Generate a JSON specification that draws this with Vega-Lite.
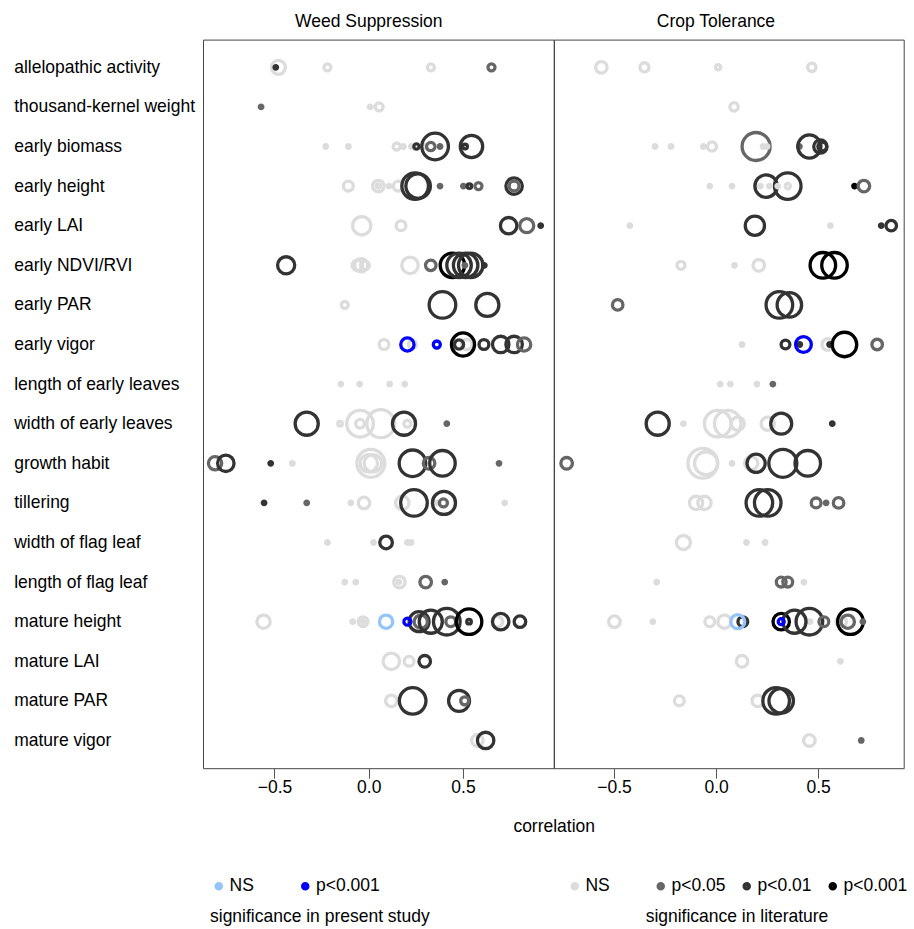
{
"$schema": "https://vega.github.io/schema/vega-lite/v6.json",
"autosize": {"type": "pad"},
"padding": {"left": 13, "top": 11.6, "right": 5, "bottom": 5},
"background": "white",
"spacing": 0,
"bounds": "flush",
"config": {
  "font": "Liberation Sans",
  "view": {"stroke": "#444", "strokeWidth": 1},
  "axis": {"grid": false, "labelColor": "#000", "labelFontSize": 17.5, "titleColor": "#000", "titleFontWeight": "normal", "titleFontSize": 17.5},
  "legend": {"orient": "none", "direction": "horizontal", "labelFontSize": 17.5, "titleFontSize": 17.5, "titleFontWeight": "normal", "labelColor": "#000", "titleColor": "#000", "symbolSize": 20, "symbolStrokeWidth": 4, "symbolType": "circle", "labelOffset": 2, "titlePadding": 12, "padding": 0, "titleOrient": "bottom", "gridAlign": "all", "titleLimit": 500, "labelLimit": 300},
  "title": {"fontSize": 17.5, "fontWeight": "normal", "color": "#000"}
},
"datasets": {"pts": [
{"trait":"allelopathic activity","panel":"weed","r":-0.479,"n":4,"sig":"NS","src":"lit"},
{"trait":"allelopathic activity","panel":"weed","r":-0.493,"n":1,"sig":"p<0.01","src":"lit"},
{"trait":"allelopathic activity","panel":"weed","r":-0.219,"n":2,"sig":"NS","src":"lit"},
{"trait":"allelopathic activity","panel":"weed","r":0.33,"n":2,"sig":"NS","src":"lit"},
{"trait":"allelopathic activity","panel":"weed","r":0.651,"n":2,"sig":"p<0.05","src":"lit"},
{"trait":"thousand-kernel weight","panel":"weed","r":-0.571,"n":1,"sig":"p<0.05","src":"lit"},
{"trait":"thousand-kernel weight","panel":"weed","r":0.007,"n":1,"sig":"NS","src":"lit"},
{"trait":"thousand-kernel weight","panel":"weed","r":0.055,"n":2.3,"sig":"NS","src":"lit"},
{"trait":"early biomass","panel":"weed","r":-0.228,"n":1,"sig":"NS","src":"lit"},
{"trait":"early biomass","panel":"weed","r":-0.108,"n":1,"sig":"NS","src":"lit"},
{"trait":"early biomass","panel":"weed","r":0.148,"n":2,"sig":"NS","src":"lit"},
{"trait":"early biomass","panel":"weed","r":0.184,"n":1,"sig":"NS","src":"lit"},
{"trait":"early biomass","panel":"weed","r":0.226,"n":1,"sig":"NS","src":"lit"},
{"trait":"early biomass","panel":"weed","r":0.29,"n":1.5,"sig":"NS","src":"lit"},
{"trait":"early biomass","panel":"weed","r":0.253,"n":1.5,"sig":"p<0.01","src":"lit"},
{"trait":"early biomass","panel":"weed","r":0.352,"n":7.6,"sig":"p<0.01","src":"lit"},
{"trait":"early biomass","panel":"weed","r":0.329,"n":2.4,"sig":"p<0.05","src":"lit"},
{"trait":"early biomass","panel":"weed","r":0.378,"n":1,"sig":"p<0.05","src":"lit"},
{"trait":"early biomass","panel":"weed","r":0.545,"n":6.4,"sig":"p<0.01","src":"lit"},
{"trait":"early biomass","panel":"weed","r":0.511,"n":1.3,"sig":"p<0.01","src":"lit"},
{"trait":"early height","panel":"weed","r":-0.108,"n":2.8,"sig":"NS","src":"lit"},
{"trait":"early height","panel":"weed","r":0.051,"n":3.3,"sig":"NS","src":"lit"},
{"trait":"early height","panel":"weed","r":0.051,"n":1.2,"sig":"NS","src":"lit"},
{"trait":"early height","panel":"weed","r":0.108,"n":1,"sig":"NS","src":"lit"},
{"trait":"early height","panel":"weed","r":0.157,"n":2.8,"sig":"NS","src":"lit"},
{"trait":"early height","panel":"weed","r":0.246,"n":7.6,"sig":"p<0.01","src":"lit"},
{"trait":"early height","panel":"weed","r":0.262,"n":7,"sig":"p<0.01","src":"lit"},
{"trait":"early height","panel":"weed","r":0.378,"n":1,"sig":"p<0.05","src":"lit"},
{"trait":"early height","panel":"weed","r":0.502,"n":1,"sig":"p<0.05","src":"lit"},
{"trait":"early height","panel":"weed","r":0.534,"n":1.3,"sig":"p<0.01","src":"lit"},
{"trait":"early height","panel":"weed","r":0.582,"n":2,"sig":"p<0.05","src":"lit"},
{"trait":"early height","panel":"weed","r":0.771,"n":4.7,"sig":"p<0.01","src":"lit"},
{"trait":"early height","panel":"weed","r":0.771,"n":2.8,"sig":"p<0.05","src":"lit"},
{"trait":"early LAI","panel":"weed","r":-0.037,"n":5.2,"sig":"NS","src":"lit"},
{"trait":"early LAI","panel":"weed","r":0.171,"n":2.8,"sig":"NS","src":"lit"},
{"trait":"early LAI","panel":"weed","r":0.742,"n":4.7,"sig":"p<0.01","src":"lit"},
{"trait":"early LAI","panel":"weed","r":0.838,"n":4,"sig":"p<0.05","src":"lit"},
{"trait":"early LAI","panel":"weed","r":0.912,"n":1,"sig":"p<0.01","src":"lit"},
{"trait":"early NDVI/RVI","panel":"weed","r":-0.438,"n":4.9,"sig":"p<0.01","src":"lit"},
{"trait":"early NDVI/RVI","panel":"weed","r":-0.06,"n":3,"sig":"NS","src":"lit"},
{"trait":"early NDVI/RVI","panel":"weed","r":-0.04,"n":3.8,"sig":"NS","src":"lit"},
{"trait":"early NDVI/RVI","panel":"weed","r":-0.02,"n":2.5,"sig":"NS","src":"lit"},
{"trait":"early NDVI/RVI","panel":"weed","r":0.219,"n":4.7,"sig":"NS","src":"lit"},
{"trait":"early NDVI/RVI","panel":"weed","r":0.329,"n":3,"sig":"p<0.05","src":"lit"},
{"trait":"early NDVI/RVI","panel":"weed","r":0.444,"n":7,"sig":"p<0.001","src":"lit"},
{"trait":"early NDVI/RVI","panel":"weed","r":0.479,"n":7,"sig":"p<0.01","src":"lit"},
{"trait":"early NDVI/RVI","panel":"weed","r":0.514,"n":7,"sig":"p<0.01","src":"lit"},
{"trait":"early NDVI/RVI","panel":"weed","r":0.541,"n":7,"sig":"p<0.01","src":"lit"},
{"trait":"early NDVI/RVI","panel":"weed","r":0.51,"n":1,"sig":"p<0.05","src":"lit"},
{"trait":"early NDVI/RVI","panel":"weed","r":0.613,"n":1,"sig":"p<0.01","src":"lit"},
{"trait":"early PAR","panel":"weed","r":-0.127,"n":2,"sig":"NS","src":"lit"},
{"trait":"early PAR","panel":"weed","r":0.391,"n":7.6,"sig":"p<0.01","src":"lit"},
{"trait":"early PAR","panel":"weed","r":0.629,"n":6.6,"sig":"p<0.01","src":"lit"},
{"trait":"early vigor","panel":"weed","r":0.081,"n":2.8,"sig":"NS","src":"lit"},
{"trait":"early vigor","panel":"weed","r":0.232,"n":2.3,"sig":"NS","src":"lit"},
{"trait":"early vigor","panel":"weed","r":0.52,"n":3,"sig":"NS","src":"lit"},
{"trait":"early vigor","panel":"weed","r":0.5,"n":6.6,"sig":"p<0.001","src":"lit"},
{"trait":"early vigor","panel":"weed","r":0.479,"n":2.6,"sig":"p<0.01","src":"lit"},
{"trait":"early vigor","panel":"weed","r":0.611,"n":2.8,"sig":"p<0.01","src":"lit"},
{"trait":"early vigor","panel":"weed","r":0.7,"n":4.7,"sig":"p<0.01","src":"lit"},
{"trait":"early vigor","panel":"weed","r":0.771,"n":4.7,"sig":"p<0.01","src":"lit"},
{"trait":"early vigor","panel":"weed","r":0.824,"n":3.8,"sig":"p<0.05","src":"lit"},
{"trait":"early vigor","panel":"weed","r":0.205,"n":3.8,"sig":"p<0.001","src":"present"},
{"trait":"early vigor","panel":"weed","r":0.361,"n":2,"sig":"p<0.001","src":"present"},
{"trait":"length of early leaves","panel":"weed","r":-0.148,"n":1,"sig":"NS","src":"lit"},
{"trait":"length of early leaves","panel":"weed","r":-0.048,"n":1,"sig":"NS","src":"lit"},
{"trait":"length of early leaves","panel":"weed","r":0.111,"n":1,"sig":"NS","src":"lit"},
{"trait":"length of early leaves","panel":"weed","r":0.191,"n":1,"sig":"NS","src":"lit"},
{"trait":"width of early leaves","panel":"weed","r":-0.329,"n":6.6,"sig":"p<0.01","src":"lit"},
{"trait":"width of early leaves","panel":"weed","r":-0.152,"n":1.3,"sig":"NS","src":"lit"},
{"trait":"width of early leaves","panel":"weed","r":-0.046,"n":7.6,"sig":"NS","src":"lit"},
{"trait":"width of early leaves","panel":"weed","r":-0.046,"n":2.5,"sig":"NS","src":"lit"},
{"trait":"width of early leaves","panel":"weed","r":0.064,"n":8,"sig":"NS","src":"lit"},
{"trait":"width of early leaves","panel":"weed","r":0.205,"n":2,"sig":"NS","src":"lit"},
{"trait":"width of early leaves","panel":"weed","r":0.187,"n":6.6,"sig":"p<0.01","src":"lit"},
{"trait":"width of early leaves","panel":"weed","r":0.414,"n":1,"sig":"p<0.05","src":"lit"},
{"trait":"growth habit","panel":"weed","r":-0.815,"n":3.8,"sig":"p<0.05","src":"lit"},
{"trait":"growth habit","panel":"weed","r":-0.758,"n":4.7,"sig":"p<0.01","src":"lit"},
{"trait":"growth habit","panel":"weed","r":-0.52,"n":1,"sig":"p<0.01","src":"lit"},
{"trait":"growth habit","panel":"weed","r":-0.405,"n":1,"sig":"NS","src":"lit"},
{"trait":"growth habit","panel":"weed","r":0.011,"n":8,"sig":"NS","src":"lit"},
{"trait":"growth habit","panel":"weed","r":0.0,"n":5,"sig":"NS","src":"lit"},
{"trait":"growth habit","panel":"weed","r":0.022,"n":5,"sig":"NS","src":"lit"},
{"trait":"growth habit","panel":"weed","r":0.232,"n":7.6,"sig":"p<0.01","src":"lit"},
{"trait":"growth habit","panel":"weed","r":0.32,"n":3.3,"sig":"p<0.05","src":"lit"},
{"trait":"growth habit","panel":"weed","r":0.391,"n":7.3,"sig":"p<0.01","src":"lit"},
{"trait":"growth habit","panel":"weed","r":0.691,"n":1,"sig":"p<0.05","src":"lit"},
{"trait":"tillering","panel":"weed","r":-0.555,"n":1,"sig":"p<0.01","src":"lit"},
{"trait":"tillering","panel":"weed","r":-0.329,"n":1,"sig":"p<0.05","src":"lit"},
{"trait":"tillering","panel":"weed","r":-0.095,"n":1,"sig":"NS","src":"lit"},
{"trait":"tillering","panel":"weed","r":-0.025,"n":3.3,"sig":"NS","src":"lit"},
{"trait":"tillering","panel":"weed","r":0.178,"n":3.8,"sig":"NS","src":"lit"},
{"trait":"tillering","panel":"weed","r":0.364,"n":1,"sig":"NS","src":"lit"},
{"trait":"tillering","panel":"weed","r":0.721,"n":1,"sig":"NS","src":"lit"},
{"trait":"tillering","panel":"weed","r":0.24,"n":7.6,"sig":"p<0.01","src":"lit"},
{"trait":"tillering","panel":"weed","r":0.399,"n":6.6,"sig":"p<0.01","src":"lit"},
{"trait":"tillering","panel":"weed","r":0.396,"n":2.3,"sig":"p<0.05","src":"lit"},
{"trait":"width of flag leaf","panel":"weed","r":-0.219,"n":1,"sig":"NS","src":"lit"},
{"trait":"width of flag leaf","panel":"weed","r":0.025,"n":1,"sig":"NS","src":"lit"},
{"trait":"width of flag leaf","panel":"weed","r":0.205,"n":1,"sig":"NS","src":"lit"},
{"trait":"width of flag leaf","panel":"weed","r":0.225,"n":1,"sig":"NS","src":"lit"},
{"trait":"width of flag leaf","panel":"weed","r":0.092,"n":3.6,"sig":"p<0.01","src":"lit"},
{"trait":"length of flag leaf","panel":"weed","r":-0.127,"n":1,"sig":"NS","src":"lit"},
{"trait":"length of flag leaf","panel":"weed","r":-0.069,"n":1,"sig":"NS","src":"lit"},
{"trait":"length of flag leaf","panel":"weed","r":0.163,"n":3.3,"sig":"NS","src":"lit"},
{"trait":"length of flag leaf","panel":"weed","r":0.16,"n":1,"sig":"NS","src":"lit"},
{"trait":"length of flag leaf","panel":"weed","r":0.302,"n":3.3,"sig":"p<0.05","src":"lit"},
{"trait":"length of flag leaf","panel":"weed","r":0.403,"n":1,"sig":"p<0.05","src":"lit"},
{"trait":"mature height","panel":"weed","r":-0.558,"n":3.8,"sig":"NS","src":"lit"},
{"trait":"mature height","panel":"weed","r":-0.085,"n":1,"sig":"NS","src":"lit"},
{"trait":"mature height","panel":"weed","r":-0.03,"n":2.8,"sig":"NS","src":"lit"},
{"trait":"mature height","panel":"weed","r":-0.03,"n":1,"sig":"NS","src":"lit"},
{"trait":"mature height","panel":"weed","r":0.682,"n":3,"sig":"NS","src":"lit"},
{"trait":"mature height","panel":"weed","r":0.267,"n":5.7,"sig":"p<0.01","src":"lit"},
{"trait":"mature height","panel":"weed","r":0.276,"n":3.8,"sig":"p<0.05","src":"lit"},
{"trait":"mature height","panel":"weed","r":0.329,"n":6.6,"sig":"p<0.01","src":"lit"},
{"trait":"mature height","panel":"weed","r":0.414,"n":7.6,"sig":"p<0.01","src":"lit"},
{"trait":"mature height","panel":"weed","r":0.435,"n":2.8,"sig":"p<0.05","src":"lit"},
{"trait":"mature height","panel":"weed","r":0.532,"n":7.3,"sig":"p<0.001","src":"lit"},
{"trait":"mature height","panel":"weed","r":0.532,"n":1.3,"sig":"p<0.01","src":"lit"},
{"trait":"mature height","panel":"weed","r":0.7,"n":4.7,"sig":"p<0.01","src":"lit"},
{"trait":"mature height","panel":"weed","r":0.802,"n":3.3,"sig":"p<0.01","src":"lit"},
{"trait":"mature height","panel":"weed","r":0.092,"n":3.8,"sig":"NS","src":"present"},
{"trait":"mature height","panel":"weed","r":0.205,"n":2,"sig":"p<0.001","src":"present"},
{"trait":"mature LAI","panel":"weed","r":0.12,"n":4.7,"sig":"NS","src":"lit"},
{"trait":"mature LAI","panel":"weed","r":0.214,"n":2.8,"sig":"NS","src":"lit"},
{"trait":"mature LAI","panel":"weed","r":0.297,"n":3.3,"sig":"p<0.01","src":"lit"},
{"trait":"mature PAR","panel":"weed","r":0.12,"n":3.3,"sig":"NS","src":"lit"},
{"trait":"mature PAR","panel":"weed","r":0.233,"n":7.6,"sig":"p<0.01","src":"lit"},
{"trait":"mature PAR","panel":"weed","r":0.479,"n":6,"sig":"p<0.01","src":"lit"},
{"trait":"mature PAR","panel":"weed","r":0.509,"n":2.3,"sig":"p<0.05","src":"lit"},
{"trait":"mature vigor","panel":"weed","r":0.576,"n":3.3,"sig":"NS","src":"lit"},
{"trait":"mature vigor","panel":"weed","r":0.62,"n":4.7,"sig":"p<0.01","src":"lit"},
{"trait":"allelopathic activity","panel":"crop","r":-0.562,"n":3.3,"sig":"NS","src":"lit"},
{"trait":"allelopathic activity","panel":"crop","r":-0.351,"n":2.6,"sig":"NS","src":"lit"},
{"trait":"allelopathic activity","panel":"crop","r":0.01,"n":1.5,"sig":"NS","src":"lit"},
{"trait":"allelopathic activity","panel":"crop","r":0.469,"n":2.4,"sig":"NS","src":"lit"},
{"trait":"thousand-kernel weight","panel":"crop","r":0.088,"n":2.4,"sig":"NS","src":"lit"},
{"trait":"early biomass","panel":"crop","r":-0.299,"n":1,"sig":"NS","src":"lit"},
{"trait":"early biomass","panel":"crop","r":-0.221,"n":1,"sig":"NS","src":"lit"},
{"trait":"early biomass","panel":"crop","r":-0.062,"n":1,"sig":"NS","src":"lit"},
{"trait":"early biomass","panel":"crop","r":-0.02,"n":2.6,"sig":"NS","src":"lit"},
{"trait":"early biomass","panel":"crop","r":0.196,"n":8,"sig":"p<0.05","src":"lit"},
{"trait":"early biomass","panel":"crop","r":0.23,"n":1,"sig":"NS","src":"lit"},
{"trait":"early biomass","panel":"crop","r":0.25,"n":1,"sig":"NS","src":"lit"},
{"trait":"early biomass","panel":"crop","r":0.408,"n":1,"sig":"p<0.05","src":"lit"},
{"trait":"early biomass","panel":"crop","r":0.457,"n":6.6,"sig":"p<0.01","src":"lit"},
{"trait":"early biomass","panel":"crop","r":0.511,"n":3.8,"sig":"p<0.01","src":"lit"},
{"trait":"early biomass","panel":"crop","r":0.52,"n":2.5,"sig":"p<0.01","src":"lit"},
{"trait":"early height","panel":"crop","r":-0.031,"n":1,"sig":"NS","src":"lit"},
{"trait":"early height","panel":"crop","r":0.078,"n":1,"sig":"NS","src":"lit"},
{"trait":"early height","panel":"crop","r":0.245,"n":6.4,"sig":"p<0.01","src":"lit"},
{"trait":"early height","panel":"crop","r":0.351,"n":7.6,"sig":"p<0.01","src":"lit"},
{"trait":"early height","panel":"crop","r":0.217,"n":1,"sig":"NS","src":"lit"},
{"trait":"early height","panel":"crop","r":0.261,"n":1,"sig":"NS","src":"lit"},
{"trait":"early height","panel":"crop","r":0.302,"n":1,"sig":"NS","src":"lit"},
{"trait":"early height","panel":"crop","r":0.351,"n":1.5,"sig":"NS","src":"lit"},
{"trait":"early height","panel":"crop","r":0.678,"n":1,"sig":"p<0.001","src":"lit"},
{"trait":"early height","panel":"crop","r":0.724,"n":3.3,"sig":"p<0.05","src":"lit"},
{"trait":"early LAI","panel":"crop","r":-0.422,"n":1,"sig":"NS","src":"lit"},
{"trait":"early LAI","panel":"crop","r":0.19,"n":5.5,"sig":"p<0.01","src":"lit"},
{"trait":"early LAI","panel":"crop","r":0.56,"n":1,"sig":"NS","src":"lit"},
{"trait":"early LAI","panel":"crop","r":0.809,"n":1,"sig":"p<0.01","src":"lit"},
{"trait":"early LAI","panel":"crop","r":0.858,"n":3,"sig":"p<0.01","src":"lit"},
{"trait":"early NDVI/RVI","panel":"crop","r":-0.172,"n":2.3,"sig":"NS","src":"lit"},
{"trait":"early NDVI/RVI","panel":"crop","r":0.09,"n":1,"sig":"NS","src":"lit"},
{"trait":"early NDVI/RVI","panel":"crop","r":0.209,"n":3.3,"sig":"NS","src":"lit"},
{"trait":"early NDVI/RVI","panel":"crop","r":0.523,"n":7.3,"sig":"p<0.001","src":"lit"},
{"trait":"early NDVI/RVI","panel":"crop","r":0.58,"n":7.3,"sig":"p<0.001","src":"lit"},
{"trait":"early PAR","panel":"crop","r":-0.482,"n":3,"sig":"p<0.05","src":"lit"},
{"trait":"early PAR","panel":"crop","r":0.31,"n":7.6,"sig":"p<0.01","src":"lit"},
{"trait":"early PAR","panel":"crop","r":0.359,"n":7,"sig":"p<0.01","src":"lit"},
{"trait":"early vigor","panel":"crop","r":0.127,"n":1,"sig":"NS","src":"lit"},
{"trait":"early vigor","panel":"crop","r":0.34,"n":2.5,"sig":"p<0.01","src":"lit"},
{"trait":"early vigor","panel":"crop","r":0.547,"n":3.3,"sig":"NS","src":"lit"},
{"trait":"early vigor","panel":"crop","r":0.556,"n":1,"sig":"p<0.01","src":"lit"},
{"trait":"early vigor","panel":"crop","r":0.629,"n":7,"sig":"p<0.001","src":"lit"},
{"trait":"early vigor","panel":"crop","r":0.789,"n":3,"sig":"p<0.05","src":"lit"},
{"trait":"early vigor","panel":"crop","r":0.428,"n":4.5,"sig":"p<0.001","src":"present"},
{"trait":"early vigor","panel":"crop","r":0.41,"n":1,"sig":"p<0.01","src":"lit"},
{"trait":"length of early leaves","panel":"crop","r":0.02,"n":1,"sig":"NS","src":"lit"},
{"trait":"length of early leaves","panel":"crop","r":0.07,"n":1,"sig":"NS","src":"lit"},
{"trait":"length of early leaves","panel":"crop","r":0.2,"n":1,"sig":"NS","src":"lit"},
{"trait":"length of early leaves","panel":"crop","r":0.278,"n":1,"sig":"p<0.05","src":"lit"},
{"trait":"width of early leaves","panel":"crop","r":-0.286,"n":6.6,"sig":"p<0.01","src":"lit"},
{"trait":"width of early leaves","panel":"crop","r":-0.16,"n":1,"sig":"NS","src":"lit"},
{"trait":"width of early leaves","panel":"crop","r":0.008,"n":7.6,"sig":"NS","src":"lit"},
{"trait":"width of early leaves","panel":"crop","r":0.057,"n":7.6,"sig":"NS","src":"lit"},
{"trait":"width of early leaves","panel":"crop","r":0.106,"n":3.8,"sig":"NS","src":"lit"},
{"trait":"width of early leaves","panel":"crop","r":0.253,"n":3.8,"sig":"NS","src":"lit"},
{"trait":"width of early leaves","panel":"crop","r":0.319,"n":6,"sig":"p<0.01","src":"lit"},
{"trait":"width of early leaves","panel":"crop","r":0.569,"n":1,"sig":"p<0.01","src":"lit"},
{"trait":"growth habit","panel":"crop","r":-0.732,"n":3.3,"sig":"p<0.05","src":"lit"},
{"trait":"growth habit","panel":"crop","r":-0.065,"n":8.5,"sig":"NS","src":"lit"},
{"trait":"growth habit","panel":"crop","r":-0.049,"n":6.6,"sig":"NS","src":"lit"},
{"trait":"growth habit","panel":"crop","r":0.078,"n":1,"sig":"NS","src":"lit"},
{"trait":"growth habit","panel":"crop","r":0.172,"n":3.8,"sig":"NS","src":"lit"},
{"trait":"growth habit","panel":"crop","r":0.196,"n":5.2,"sig":"p<0.01","src":"lit"},
{"trait":"growth habit","panel":"crop","r":0.327,"n":8,"sig":"p<0.01","src":"lit"},
{"trait":"growth habit","panel":"crop","r":0.449,"n":7.3,"sig":"p<0.01","src":"lit"},
{"trait":"tillering","panel":"crop","r":-0.098,"n":3.8,"sig":"NS","src":"lit"},
{"trait":"tillering","panel":"crop","r":-0.057,"n":3.8,"sig":"NS","src":"lit"},
{"trait":"tillering","panel":"crop","r":0.212,"n":7.6,"sig":"p<0.01","src":"lit"},
{"trait":"tillering","panel":"crop","r":0.253,"n":7.6,"sig":"p<0.01","src":"lit"},
{"trait":"tillering","panel":"crop","r":0.49,"n":2.8,"sig":"p<0.05","src":"lit"},
{"trait":"tillering","panel":"crop","r":0.539,"n":1,"sig":"p<0.05","src":"lit"},
{"trait":"tillering","panel":"crop","r":0.6,"n":3,"sig":"p<0.05","src":"lit"},
{"trait":"width of flag leaf","panel":"crop","r":-0.16,"n":4,"sig":"NS","src":"lit"},
{"trait":"width of flag leaf","panel":"crop","r":0.149,"n":1,"sig":"NS","src":"lit"},
{"trait":"width of flag leaf","panel":"crop","r":0.24,"n":1,"sig":"NS","src":"lit"},
{"trait":"length of flag leaf","panel":"crop","r":-0.291,"n":1,"sig":"NS","src":"lit"},
{"trait":"length of flag leaf","panel":"crop","r":0.319,"n":2.8,"sig":"p<0.05","src":"lit"},
{"trait":"length of flag leaf","panel":"crop","r":0.351,"n":2.8,"sig":"p<0.05","src":"lit"},
{"trait":"length of flag leaf","panel":"crop","r":0.43,"n":1,"sig":"NS","src":"lit"},
{"trait":"mature height","panel":"crop","r":-0.498,"n":3.3,"sig":"NS","src":"lit"},
{"trait":"mature height","panel":"crop","r":-0.31,"n":1,"sig":"NS","src":"lit"},
{"trait":"mature height","panel":"crop","r":-0.031,"n":2.8,"sig":"NS","src":"lit"},
{"trait":"mature height","panel":"crop","r":0.041,"n":3.8,"sig":"NS","src":"lit"},
{"trait":"mature height","panel":"crop","r":0.46,"n":1,"sig":"NS","src":"lit"},
{"trait":"mature height","panel":"crop","r":0.613,"n":3,"sig":"NS","src":"lit"},
{"trait":"mature height","panel":"crop","r":0.131,"n":2.8,"sig":"p<0.01","src":"lit"},
{"trait":"mature height","panel":"crop","r":0.319,"n":4.7,"sig":"p<0.001","src":"lit"},
{"trait":"mature height","panel":"crop","r":0.384,"n":6.6,"sig":"p<0.01","src":"lit"},
{"trait":"mature height","panel":"crop","r":0.457,"n":7.6,"sig":"p<0.01","src":"lit"},
{"trait":"mature height","panel":"crop","r":0.528,"n":2.8,"sig":"p<0.05","src":"lit"},
{"trait":"mature height","panel":"crop","r":0.645,"n":3.8,"sig":"p<0.05","src":"lit"},
{"trait":"mature height","panel":"crop","r":0.658,"n":7.3,"sig":"p<0.001","src":"lit"},
{"trait":"mature height","panel":"crop","r":0.719,"n":1,"sig":"p<0.05","src":"lit"},
{"trait":"mature height","panel":"crop","r":0.106,"n":4,"sig":"NS","src":"present"},
{"trait":"mature height","panel":"crop","r":0.319,"n":1.7,"sig":"p<0.001","src":"present"},
{"trait":"mature LAI","panel":"crop","r":0.127,"n":3.3,"sig":"NS","src":"lit"},
{"trait":"mature LAI","panel":"crop","r":0.609,"n":1,"sig":"NS","src":"lit"},
{"trait":"mature PAR","panel":"crop","r":-0.18,"n":2.8,"sig":"NS","src":"lit"},
{"trait":"mature PAR","panel":"crop","r":0.204,"n":3.3,"sig":"NS","src":"lit"},
{"trait":"mature PAR","panel":"crop","r":0.294,"n":7.6,"sig":"p<0.01","src":"lit"},
{"trait":"mature PAR","panel":"crop","r":0.319,"n":7,"sig":"p<0.01","src":"lit"},
{"trait":"mature vigor","panel":"crop","r":0.457,"n":3.3,"sig":"NS","src":"lit"},
{"trait":"mature vigor","panel":"crop","r":0.711,"n":1,"sig":"p<0.05","src":"lit"}
]},
"data": {"name": "pts"},
"hconcat": [
 {
  "width": 350.7, "height": 728.6,
  "title": {"text": "Weed Suppression", "anchor": "middle", "dx": -9.6, "offset": 9.1},
  "transform": [{"filter": "datum.panel === 'weed'"}],
  "encoding": {
    "x": {"field": "r", "type": "quantitative", "scale": {"domain": [-0.879, 0.981], "nice": false, "zero": false},
          "axis": {"values": [-0.5, 0, 0.5], "format": ".1f", "domain": false, "tickSize": 10, "tickColor": "#555", "labelPadding": 0, "labelFlush": false, "title": "correlation", "titleX": 350.7, "titleY": 63.7, "titleBaseline": "alphabetic", "titleAlign": "center"}},
    "y": {"field": "trait", "type": "nominal", "sort": null,
          "scale": {"type": "point", "padding": 0.7, "domain": ["allelopathic activity","thousand-kernel weight","early biomass","early height","early LAI","early NDVI/RVI","early PAR","early vigor","length of early leaves","width of early leaves","growth habit","tillering","width of flag leaf","length of flag leaf","mature height","mature LAI","mature PAR","mature vigor"]},
          "axis": {"title": null, "domain": false, "ticks": false, "tickSize": 0, "labelAlign": "left", "labelPadding": 189.3, "labelLimit": 400, "labelBaseline": "middle"}},
    "size": {"field": "n", "type": "quantitative", "scale": {"type": "pow", "exponent": 2, "domain": [0, 10], "range": [0, 1225]}, "legend": null}
  },
  "layer": [
   {"transform": [{"filter": "datum.src === 'lit'"}],
    "mark": {"type": "point", "filled": false, "strokeWidth": 3.3, "opacity": 1},
    "encoding": {"color": {"field": "sig", "type": "nominal", "scale": {"domain": ["NS","p<0.05","p<0.01","p<0.001"], "range": ["#dcdcdc","#666666","#333333","#000000"]},
       "legend": {"title": "significance in literature", "legendX": 363, "legendY": 837.8, "titleAnchor": "middle", "columnPadding": 0}}}},
   {"transform": [{"filter": "datum.src === 'present'"}],
    "mark": {"type": "point", "filled": false, "strokeWidth": 3.3, "opacity": 1},
    "encoding": {"stroke": {"field": "sig", "type": "nominal", "scale": {"domain": ["NS","p<0.001"], "range": ["#94c4fa","#0000ff"]},
       "legend": {"title": "significance in present study", "legendX": 7, "legendY": 837.8, "titleAnchor": "start", "columnPadding": 0.5}}}}
  ]
 },
 {
  "width": 349.7, "height": 728.6,
  "title": {"text": "Crop Tolerance", "anchor": "middle", "dx": -12.9, "offset": 9.1},
  "transform": [{"filter": "datum.panel === 'crop'"}],
  "encoding": {
    "x": {"field": "r", "type": "quantitative", "scale": {"domain": [-0.794, 0.919], "nice": false, "zero": false},
          "axis": {"values": [-0.5, 0, 0.5], "format": ".1f", "domain": false, "tickSize": 10, "tickColor": "#555", "labelPadding": 0, "labelFlush": false, "title": null}},
    "y": {"field": "trait", "type": "nominal", "sort": null,
          "scale": {"type": "point", "padding": 0.7, "domain": ["allelopathic activity","thousand-kernel weight","early biomass","early height","early LAI","early NDVI/RVI","early PAR","early vigor","length of early leaves","width of early leaves","growth habit","tillering","width of flag leaf","length of flag leaf","mature height","mature LAI","mature PAR","mature vigor"]},
          "axis": null},
    "size": {"field": "n", "type": "quantitative", "scale": {"type": "pow", "exponent": 2, "domain": [0, 10], "range": [0, 1225]}, "legend": null}
  },
  "layer": [
   {"transform": [{"filter": "datum.src === 'lit'"}],
    "mark": {"type": "point", "filled": false, "strokeWidth": 3.3, "opacity": 1},
    "encoding": {"color": {"field": "sig", "type": "nominal", "scale": {"domain": ["NS","p<0.05","p<0.01","p<0.001"], "range": ["#dcdcdc","#666666","#333333","#000000"]},
       "legend": {"title": "significance in literature", "legendX": 363, "legendY": 837.8, "titleAnchor": "middle", "columnPadding": 0}}}},
   {"transform": [{"filter": "datum.src === 'present'"}],
    "mark": {"type": "point", "filled": false, "strokeWidth": 3.3, "opacity": 1},
    "encoding": {"stroke": {"field": "sig", "type": "nominal", "scale": {"domain": ["NS","p<0.001"], "range": ["#94c4fa","#0000ff"]},
       "legend": {"title": "significance in present study", "legendX": 7, "legendY": 837.8, "titleAnchor": "start", "columnPadding": 0.5}}}}
  ]
 }
],
"resolve": {"scale": {"x": "independent", "y": "shared", "color": "shared", "stroke": "shared", "size": "shared"}}
}
